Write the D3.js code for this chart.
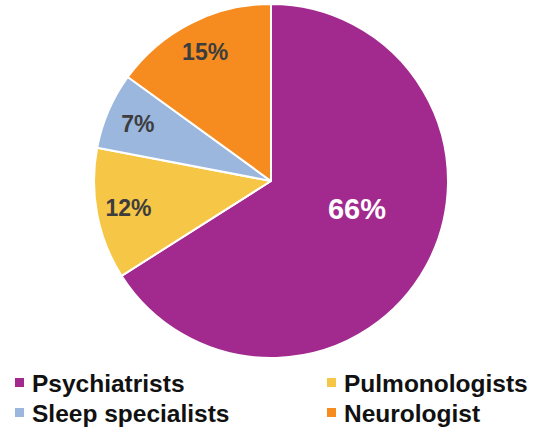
<!DOCTYPE html>
<html>
<head>
<meta charset="utf-8">
<script src="https://cdn.jsdelivr.net/npm/d3@7"></script>
<style>
  html, body { margin: 0; padding: 0; background: #ffffff; }
  svg { display: block; }
  text { font-family: "Liberation Sans", Arial, sans-serif; font-weight: bold; }
</style>
</head>
<body>
<svg id="chart" width="541" height="434"></svg>
<script>
// Share of referrals by specialty
const categories = ["Psychiatrists", "Pulmonologists", "Sleep specialists", "Neurologist"];
const shares = [66, 12, 7, 15];
const colors = ["#A22A8F", "#F6C646", "#9BB7DE", "#F68C20"];
const labelColors = ["#ffffff", "#3d3d3d", "#3d3d3d", "#3d3d3d"];
const legendOrder = ["Psychiatrists", "Pulmonologists", "Sleep specialists", "Neurologist"];

const svg = d3.select("#chart");
const cx = 271, cy = 181, radius = 177;

const data = categories.map((c, i) => ({ name: c, value: shares[i], color: colors[i], labelColor: labelColors[i] }));

const pie = d3.pie().value(d => d.value).sort(null);
const arcs = pie(data);

const arc = d3.arc().innerRadius(0).outerRadius(radius);

const g = svg.append("g").attr("transform", `translate(${cx},${cy})`);

g.selectAll("path.slice")
  .data(arcs)
  .join("path")
  .attr("class", "slice")
  .attr("d", arc)
  .attr("fill", d => d.data.color)
  .attr("stroke", "#ffffff")
  .attr("stroke-width", 2)
  .attr("stroke-linejoin", "round");

// Large slice labelled inside towards the middle (rotated a little towards the
// horizontal), small slices labelled near the rim
function labelPos(d) {
  if (d.data.value > 50) {
    const mid = (d.startAngle + d.endAngle) / 2 - 0.19;
    const r = radius * 0.51;
    return [r * Math.sin(mid), -r * Math.cos(mid)];
  }
  const a = d3.arc().innerRadius(radius * 0.82).outerRadius(radius * 0.82);
  return a.centroid(d);
}

g.selectAll("text.pct")
  .data(arcs)
  .join("text")
  .attr("class", "pct")
  .attr("transform", d => {
    const p = labelPos(d);
    return `translate(${p[0]},${p[1]})`;
  })
  .attr("text-anchor", "middle")
  .attr("dy", "0.36em")
  .attr("fill", d => d.data.labelColor)
  .style("font-size", d => d.data.value > 50 ? "29px" : "23px")
  .text(d => d.data.value + "%");

// Legend: two columns, two rows
const colX = [15, 327];
const rowY = [378, 408];
const legend = svg.append("g");
legendOrder.forEach((name, i) => {
  const d = data.find(x => x.name === name);
  const col = i % 2, row = Math.floor(i / 2);
  const item = legend.append("g").attr("transform", `translate(${colX[col]},${rowY[row]})`);
  item.append("rect").attr("x", 0).attr("y", 0).attr("width", 9).attr("height", 9).attr("fill", d.color);
  item.append("text")
    .attr("x", 17)
    .attr("y", 14)
    .attr("fill", "#111111")
    .style("font-size", "24.5px")
    .text(name);
});
</script>
</body>
</html>
